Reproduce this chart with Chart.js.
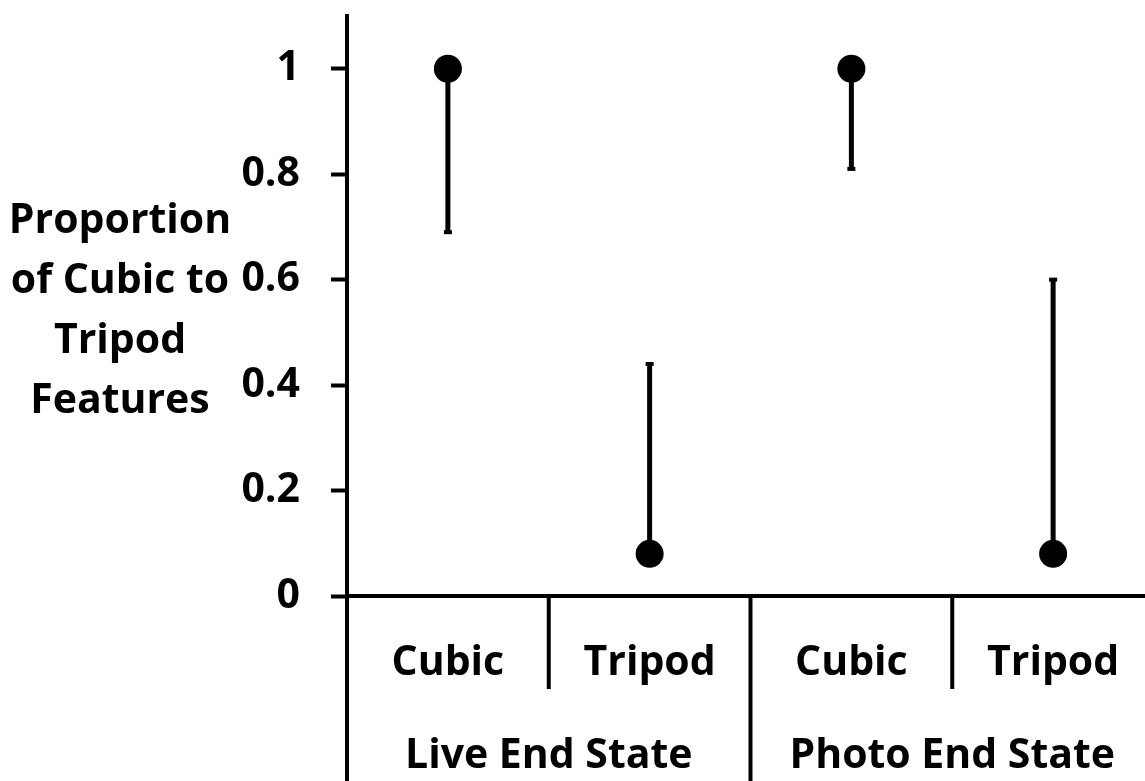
<!DOCTYPE html>
<html>
<head>
<meta charset="utf-8">
<script src="https://cdn.jsdelivr.net/npm/chart.js@4.4.1/dist/chart.umd.min.js"></script>
<style>
  html, body { margin: 0; padding: 0; background: #fff; overflow: hidden; }
  #wrap { width: 1168px; height: 781px; }
</style>
</head>
<body>
<div id="wrap"><canvas id="chart"></canvas></div>
<script>
// Chart data
const categories = ['Cubic', 'Tripod', 'Cubic', 'Tripod'];
const groups = ['Live End State', 'Photo End State'];
const proportions = [1, 0.08, 1, 0.08];
const errorBarEnds = [0.69, 0.44, 0.81, 0.60]; // one-sided bar goes from value to this
const yTickValues = [0, 0.2, 0.4, 0.6, 0.8, 1];
const yTickLabels = ['0', '0.2', '0.4', '0.6', '0.8', '1'];
const yTitleLines = ['Proportion', 'of Cubic to', 'Tripod', 'Features'];

const FONT = '"Open Sans", Lato, sans-serif';
const FONT_SIZE = 41;

// Chart.js reserves room for half tick labels; we want the area exactly
function noPadding(scale) {
    scale.paddingTop = 0;
    scale.paddingBottom = 0;
    scale.paddingLeft = 0;
    scale.paddingRight = 0;
}

// Draws error bars, category labels, dividers and the y title
const decorations = {
    id: 'decorations',
    beforeDatasetsDraw(chart) {
        const ctx = chart.ctx;
        const x = chart.scales.x;
        const y = chart.scales.y;
        ctx.save();
        ctx.strokeStyle = '#000';
        ctx.fillStyle = '#000';
        ctx.lineWidth = 5;
        errorBarEnds.forEach((end, i) => {
            const px = x.getPixelForValue(i);
            const y0 = y.getPixelForValue(proportions[i]);
            const y1 = y.getPixelForValue(end);
            ctx.beginPath();
            ctx.moveTo(px, y0);
            ctx.lineTo(px, y1);
            ctx.stroke();
            ctx.fillRect(px - 4, y1 - 2, 8, 4);
        });
        ctx.restore();
    },
    afterDraw(chart) {
        const ctx = chart.ctx;
        const x = chart.scales.x;
        const y = chart.scales.y;
        const bottom = y.bottom;
        ctx.save();
        ctx.strokeStyle = '#000';
        ctx.lineWidth = 4;

        // y axis continues down through the label rows
        ctx.beginPath();
        ctx.moveTo(x.left, bottom);
        ctx.lineTo(x.left, chart.height);
        // divider between the two groups
        const mid = x.getPixelForValue(1.5);
        ctx.moveTo(mid, bottom);
        ctx.lineTo(mid, chart.height);
        // short dividers inside each group
        [0.5, 2.5].forEach(v => {
            const px = x.getPixelForValue(v);
            ctx.moveTo(px, bottom);
            ctx.lineTo(px, bottom + 93);
        });
        ctx.stroke();

        ctx.fillStyle = '#000';
        ctx.font = 'bold ' + FONT_SIZE + 'px ' + FONT;
        ctx.textAlign = 'center';
        ctx.textBaseline = 'alphabetic';
        categories.forEach((c, i) => {
            ctx.fillText(c, x.getPixelForValue(i), bottom + 79);
        });
        groups.forEach((g, i) => {
            const cx = x.getPixelForValue(i * 2 + 0.5);
            ctx.fillText(g, cx, bottom + 172);
        });

        yTitleLines.forEach((t, i) => {
            ctx.fillText(t, 120, 233 + i * 60);
        });
        ctx.restore();
    }
};

const chart = new Chart(document.getElementById('chart'), {
    type: 'line',
    data: {
        labels: categories,
        datasets: [{
            data: proportions,
            showLine: false,
            pointRadius: 14,
            pointHoverRadius: 14,
            pointBackgroundColor: '#000',
            pointBorderWidth: 0,
            borderColor: '#000'
        }]
    },
    options: {
        responsive: true,
        maintainAspectRatio: false,
        animation: false,
        layout: { padding: { top: 16, right: 0, left: 0, bottom: 0 } },
        plugins: {
            legend: { display: false },
            tooltip: { enabled: false }
        },
        scales: {
            x: {
                type: 'category',
                offset: true,
                grid: { display: false },
                border: { display: true, color: '#000', width: 4 },
                ticks: { display: false },
                afterFit(scale) {
                    scale.height = 185;
                    noPadding(scale);
                }
            },
            y: {
                min: 0,
                max: 1.1,
                afterBuildTicks(scale) {
                    scale.ticks = yTickValues.map(v => ({ value: v }));
                },
                grid: {
                    drawOnChartArea: false,
                    drawTicks: true,
                    tickLength: 16,
                    tickWidth: 4,
                    tickColor: '#000'
                },
                border: { display: true, color: '#000', width: 4 },
                ticks: {
                    padding: 31,
                    color: '#000',
                    font: { family: FONT, size: FONT_SIZE, weight: 'bold' },
                    callback: (value, index) => yTickLabels[index]
                },
                afterFit(scale) {
                    scale.width = 347;
                    noPadding(scale);
                }
            }
        }
    },
    plugins: [decorations]
});
</script>
</body>
</html>
